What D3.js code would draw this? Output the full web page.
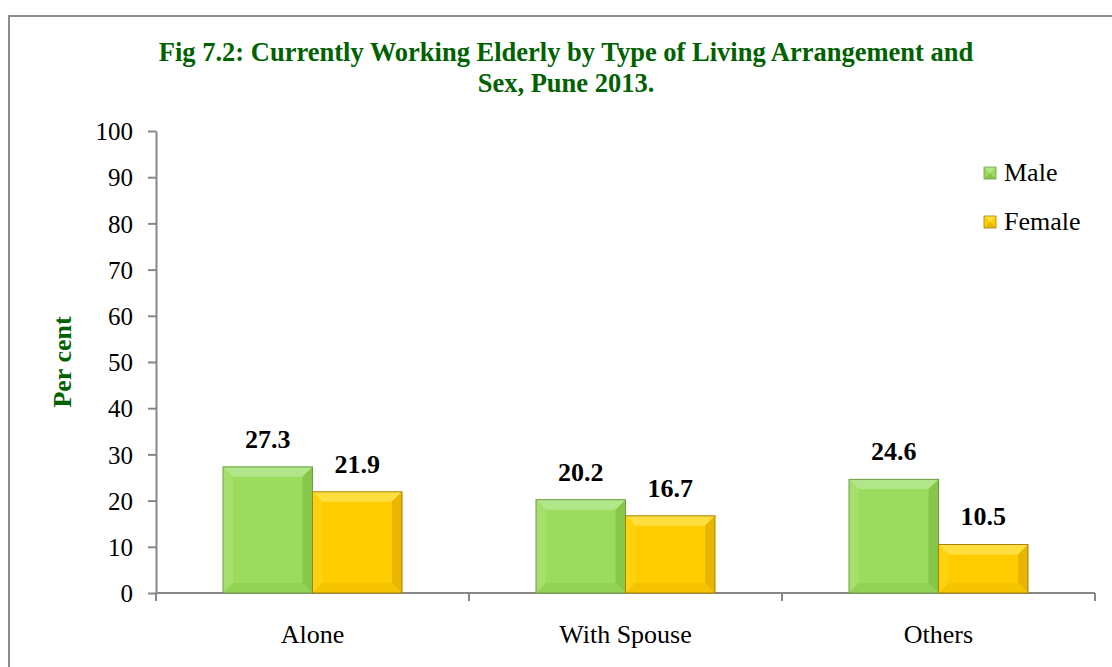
<!DOCTYPE html>
<html>
<head>
<meta charset="utf-8">
<script src="https://cdn.jsdelivr.net/npm/d3@7"></script>
<style>
  body { margin: 0; background: #fff; }
  svg text { font-family: "Liberation Serif", "Times New Roman", serif; }
  .tick text { font-size: 25px; fill: #000; }
</style>
</head>
<body>
<svg id="chart" width="1112" height="667"></svg>
<script>
// data
var categories = ['Alone', 'With Spouse', 'Others'];
var male = [27.3, 20.2, 24.6];
var female = [21.9, 16.7, 10.5];
var series = ['Male', 'Female'];
var yTicks = [0, 10, 20, 30, 40, 50, 60, 70, 80, 90, 100];

var svg = d3.select('#chart');

// frame
svg.append('path')
    .attr('d', 'M9,667 L9,16 L1112,16')
    .attr('fill', 'none')
    .attr('stroke', '#8c8c8c')
    .attr('stroke-width', 2);

var plotLeft = 156, plotRight = 1095, plotTop = 131, plotBottom = 593;

var x = d3.scaleBand().domain(categories).range([plotLeft, plotRight]);
var y = d3.scaleLinear().domain([0, 100]).range([plotBottom, plotTop]);
var barW = 89.5;

var colors = {
    Male: { base: '#9bdb5d', top: '#b2e68a', left: '#a5e06c', right: '#86c74a', bottom: '#92d355', edge: '#6e9e44' },
    Female: { base: '#ffcc00', top: '#ffdf40', left: '#ffd20f', right: '#e8b500', bottom: '#f5c300', edge: '#a88300' }
};

//title
var title = svg.append('text')
    .attr('text-anchor', 'middle')
    .attr('fill', '#006100')
    .attr('font-weight', 'bold')
    .attr('font-size', '26.5px');
title.append('tspan').attr('x', 566).attr('y', 61)
    .text('Fig 7.2: Currently Working Elderly by Type of Living Arrangement and');
title.append('tspan').attr('x', 566).attr('y', 92)
    .text('Sex, Pune 2013.');

// y axis title
svg.append('text')
    .attr('transform', 'translate(71,362) rotate(-90)')
    .attr('text-anchor', 'middle')
    .attr('fill', '#006100')
    .attr('font-weight', 'bold')
    .attr('font-size', '26px')
    .text('Per cent');

// y axis
var yAxis = svg.append('g')
    .attr('transform', 'translate(' + plotLeft + ',0)')
    .call(d3.axisLeft(y).tickValues(yTicks).tickSize(8).tickPadding(15).tickSizeOuter(0));
yAxis.selectAll('line, path').attr('stroke', '#878787').attr('stroke-width', 2);
yAxis.selectAll('.tick text').attr('dy', '0.35em');

// x axis
var xAxis = svg.append('g')
    .attr('transform', 'translate(0,' + plotBottom + ')');
xAxis.append('line')
    .attr('x1', plotLeft).attr('x2', plotRight)
    .attr('stroke', '#878787').attr('stroke-width', 2);
var bounds = [plotLeft].concat(categories.map(function(c) { return x(c) + x.bandwidth(); }));
xAxis.selectAll('line.tk').data(bounds).enter().append('line')
    .attr('class', 'tk')
    .attr('x1', function(d) { return d; }).attr('x2', function(d) { return d; })
    .attr('y1', 0).attr('y2', 8)
    .attr('stroke', '#878787').attr('stroke-width', 2);
xAxis.selectAll('text').data(categories).enter().append('text')
    .attr('x', function(d) { return x(d) + x.bandwidth() / 2; })
    .attr('y', 50)
    .attr('text-anchor', 'middle')
    .attr('font-size', '26px')
    .text(function(d) { return d; });

// bevel bar
function bevelBar(g, x0, y0, w, h, c, b) {
    b = Math.min(b, h / 2, w / 2);
    g.append('rect').attr('x', x0).attr('y', y0).attr('width', w).attr('height', h).attr('fill', c.base);
    g.append('polygon').attr('fill', c.top)
        .attr('points', [[x0, y0], [x0 + w, y0], [x0 + w - b, y0 + b], [x0 + b, y0 + b]].join(' '));
    g.append('polygon').attr('fill', c.left)
        .attr('points', [[x0, y0], [x0 + b, y0 + b], [x0 + b, y0 + h - b], [x0, y0 + h]].join(' '));
    g.append('polygon').attr('fill', c.right)
        .attr('points', [[x0 + w, y0], [x0 + w, y0 + h], [x0 + w - b, y0 + h - b], [x0 + w - b, y0 + b]].join(' '));
    g.append('polygon').attr('fill', c.bottom)
        .attr('points', [[x0, y0 + h], [x0 + w, y0 + h], [x0 + w - b, y0 + h - b], [x0 + b, y0 + h - b]].join(' '));
    g.append('rect').attr('x', x0).attr('y', y0).attr('width', w).attr('height', h)
        .attr('fill', 'none').attr('stroke', c.edge).attr('stroke-width', 1);
}

var bars = svg.append('g');
categories.forEach(function(cat, i) {
    var cx = x(cat) + x.bandwidth() / 2;
    [male[i], female[i]].forEach(function(v, j) {
        var x0 = j === 0 ? cx - barW : cx;
        bevelBar(bars, x0, y(v), barW, plotBottom - y(v), colors[series[j]], 10);
        bars.append('text')
            .attr('x', x0 + barW / 2)
            .attr('y', y(v) - 19)
            .attr('text-anchor', 'middle')
            .attr('font-weight', 'bold')
            .attr('font-size', '26px')
            .text(v.toFixed(1));
    });
});

// legend
var legend = svg.append('g');
series.forEach(function(s, i) {
    var ly = 167 + i * 49;
    var c = colors[s];
    var lx = 984, sz = 12, m = sz / 2;
    legend.append('rect').attr('x', lx).attr('y', ly).attr('width', sz).attr('height', sz).attr('fill', c.base);
    legend.append('polygon').attr('fill', c.top)
        .attr('points', [[lx, ly], [lx + sz, ly], [lx + m, ly + m]].join(' '));
    legend.append('polygon').attr('fill', c.right)
        .attr('points', [[lx, ly + sz], [lx + sz, ly + sz], [lx + m, ly + m]].join(' '));
    legend.append('rect').attr('x', lx).attr('y', ly).attr('width', sz).attr('height', sz)
        .attr('fill', 'none').attr('stroke', c.edge).attr('stroke-width', 0.8);
    legend.append('text')
        .attr('x', 1004).attr('y', ly + 14)
        .attr('font-size', '26px')
        .text(s);
});
</script>
</body>
</html>
